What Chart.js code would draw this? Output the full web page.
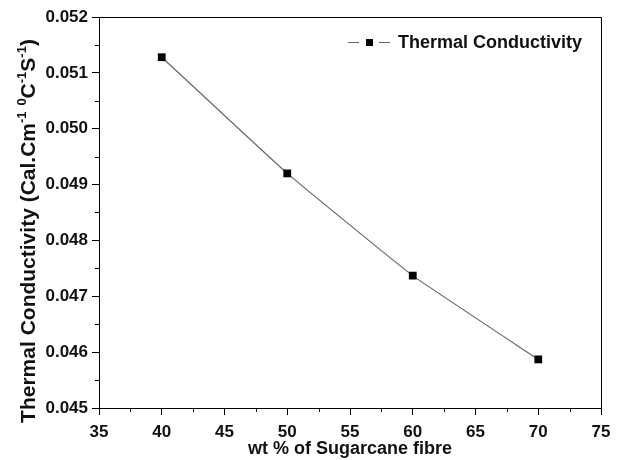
<!DOCTYPE html>
<html>
<head>
<meta charset="utf-8">
<script src="https://cdn.jsdelivr.net/npm/chart.js@4.4.1/dist/chart.umd.min.js"></script>
<style>
  html, body { margin: 0; padding: 0; background: #fff; }
  #wrap { width: 625px; height: 460px; }
</style>
</head>
<body>
<div id="wrap"><canvas id="tcChart" width="625" height="460"></canvas></div>
<script>
// data
const fibreWt = [40, 50, 60, 70];
const conductivity = [0.05128, 0.04920, 0.04737, 0.04587];
const seriesLabel = 'Thermal Conductivity';
const xTitle = 'wt % of Sugarcane fibre';
// y title in pieces: [text, superscript?]
const yTitleParts = [
  ['Thermal Conductivity (Cal.Cm', false], ['-1', true], [' ', false], ['0', true],
  ['C', false], ['-1', true], ['S', false], ['-1', true], [')', false]
];

const fam = '"Liberation Sans", Arial, sans-serif';

// frame, minor ticks, y title and the little legend in the upper right
const framePlugin = {
  id: 'frame',
  afterDraw(chart) {
    const ctx = chart.ctx;
    const a = chart.chartArea;
    const xs = chart.scales.x;
    const ys = chart.scales.y;
    ctx.save();
    ctx.strokeStyle = '#000';
    ctx.lineWidth = 1;
    ctx.beginPath();
    ctx.moveTo(a.left, a.top + 0.5);
    ctx.lineTo(a.right + 0.5, a.top + 0.5);
    ctx.lineTo(a.right + 0.5, a.bottom);
    ctx.stroke();

    // minor ticks
    ctx.beginPath();
    for (let v = 37.5; v < 75; v += 5) {
      const px = Math.round(xs.getPixelForValue(v)) + 0.5;
      ctx.moveTo(px, a.bottom);
      ctx.lineTo(px, a.bottom + 4);
    }
    for (let v = 0.0455; v < 0.052; v += 0.001) {
      const py = Math.round(ys.getPixelForValue(v)) + 0.5;
      ctx.moveTo(a.left, py);
      ctx.lineTo(a.left - 4, py);
    }
    ctx.stroke();

    // y title with superscripts
    const normal = 'bold 21px ' + fam;
    const small = 'bold 13px ' + fam;
    let total = 0;
    yTitleParts.forEach(p => { ctx.font = p[1] ? small : normal; total += ctx.measureText(p[0]).width; });
    ctx.translate(29, 231);
    ctx.rotate(-Math.PI / 2);
    ctx.fillStyle = '#111';
    ctx.textBaseline = 'middle';
    let cx = -total / 2;
    yTitleParts.forEach(p => {
      ctx.font = p[1] ? small : normal;
      ctx.fillText(p[0], cx, p[1] ? -7 : 0);
      cx += ctx.measureText(p[0]).width;
    });
    ctx.setTransform(1, 0, 0, 1, 0, 0);

    // legend
    const ds = chart.data.datasets[0];
    const ly = 42.5;
    ctx.strokeStyle = ds.borderColor;
    ctx.beginPath();
    ctx.moveTo(348, ly); ctx.lineTo(359, ly);
    ctx.moveTo(379, ly); ctx.lineTo(390, ly);
    ctx.stroke();
    ctx.fillStyle = ds.pointBackgroundColor;
    ctx.fillRect(366, ly - 3.5, 7, 7);
    ctx.fillStyle = '#111';
    ctx.font = 'bold 18px ' + fam;
    ctx.textBaseline = 'middle';
    ctx.fillText(ds.label, 398, ly + 1);
    ctx.restore();
  }
};

new Chart(document.getElementById('tcChart'), {
  type: 'line',
  data: {
    datasets: [{
      label: seriesLabel,
      data: fibreWt.map((x, i) => ({ x: x, y: conductivity[i] })),
      borderColor: '#666',
      borderWidth: 1.2,
      tension: 0.1,
      pointStyle: 'rect',
      pointRadius: 5.5,
      pointBackgroundColor: '#000',
      pointBorderColor: '#000',
      pointBorderWidth: 0
    }]
  },
  options: {
    responsive: false,
    animation: false,
    layout: { padding: { top: 17, right: 24, left: 0, bottom: 0 } },
    plugins: {
      legend: { display: false },
      tooltip: { enabled: false }
    },
    scales: {
      x: {
        type: 'linear',
        min: 35,
        max: 75,
        afterFit(scale) { scale.height = 52; },
        border: { color: '#000', width: 1 },
        grid: { drawOnChartArea: false, color: '#000', tickLength: 7 },
        ticks: { stepSize: 5, color: '#111', font: { family: fam, size: 17, weight: 'bold' }, padding: 7, maxRotation: 0 },
        title: { display: true, text: xTitle, color: '#111', font: { family: fam, size: 18, weight: 'bold' }, padding: { top: 0, bottom: 0 } }
      },
      y: {
        min: 0.045,
        max: 0.052,
        afterFit(scale) { scale.width = 99; },
        border: { color: '#000', width: 1 },
        grid: { drawOnChartArea: false, color: '#000', tickLength: 7 },
        ticks: {
          stepSize: 0.001,
          color: '#111',
          font: { family: fam, size: 17, weight: 'bold' },
          padding: 4,
          callback: v => v.toFixed(3)
        },
        title: { display: false }
      }
    }
  },
  plugins: [framePlugin]
});
</script>
</body>
</html>
